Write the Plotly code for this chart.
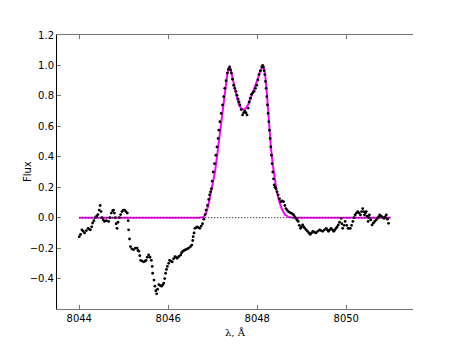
import plotly.graph_objects as go

wave = [
    8044.00, 8044.03, 8044.06, 8044.09, 8044.12, 8044.16, 8044.20, 8044.22, 8044.25, 8044.28,
    8044.30, 8044.33, 8044.36, 8044.39, 8044.42, 8044.45, 8044.47, 8044.49, 8044.51, 8044.54,
    8044.57, 8044.61, 8044.66, 8044.69, 8044.72, 8044.75, 8044.77, 8044.79, 8044.81, 8044.83,
    8044.85, 8044.87, 8044.90, 8044.93, 8044.96, 8044.99, 8045.02, 8045.05, 8045.08, 8045.10,
    8045.11, 8045.13, 8045.15, 8045.18, 8045.22, 8045.26, 8045.30, 8045.32, 8045.34, 8045.36,
    8045.38, 8045.41, 8045.45, 8045.48, 8045.50, 8045.53, 8045.56, 8045.59, 8045.62, 8045.64,
    8045.65, 8045.68, 8045.70, 8045.72, 8045.74, 8045.76, 8045.79, 8045.82, 8045.85, 8045.88,
    8045.90, 8045.92, 8045.94, 8045.96, 8045.98, 8046.01, 8046.03, 8046.06, 8046.09, 8046.12,
    8046.15, 8046.18, 8046.20, 8046.24, 8046.28, 8046.30, 8046.33, 8046.36, 8046.39, 8046.43,
    8046.46, 8046.50, 8046.53, 8046.55, 8046.56, 8046.58, 8046.60, 8046.63, 8046.65, 8046.68,
    8046.71, 8046.74, 8046.77, 8046.80, 8046.83, 8046.85, 8046.88, 8046.91, 8046.93, 8046.95,
    8046.97, 8046.99, 8047.01, 8047.04, 8047.07, 8047.095, 8047.12, 8047.14, 8047.16, 8047.19,
    8047.22, 8047.245, 8047.27, 8047.30, 8047.33, 8047.355, 8047.38, 8047.40, 8047.42, 8047.445,
    8047.47, 8047.495, 8047.52, 8047.545, 8047.57, 8047.59, 8047.61, 8047.64, 8047.67, 8047.695,
    8047.72, 8047.745, 8047.77, 8047.795, 8047.82, 8047.845, 8047.87, 8047.90, 8047.93, 8047.96,
    8047.99, 8048.015, 8048.04, 8048.07, 8048.10, 8048.12, 8048.14, 8048.155, 8048.17, 8048.185,
    8048.20, 8048.215, 8048.23, 8048.245, 8048.26, 8048.275, 8048.29, 8048.305, 8048.32, 8048.335,
    8048.35, 8048.365, 8048.38, 8048.40, 8048.42, 8048.445, 8048.47, 8048.50, 8048.53, 8048.56,
    8048.59, 8048.62, 8048.645, 8048.67, 8048.70, 8048.73, 8048.76, 8048.79, 8048.82, 8048.845,
    8048.87, 8048.895, 8048.92, 8048.945, 8048.97, 8048.995, 8049.02, 8049.045, 8049.07, 8049.10,
    8049.13, 8049.16, 8049.19, 8049.22, 8049.25, 8049.285, 8049.32, 8049.36, 8049.40, 8049.435,
    8049.47, 8049.51, 8049.55, 8049.575, 8049.60, 8049.63, 8049.66, 8049.69, 8049.72, 8049.745,
    8049.77, 8049.795, 8049.82, 8049.85, 8049.885, 8049.90, 8049.92, 8049.95, 8049.975, 8050.01,
    8050.04, 8050.065, 8050.09, 8050.12, 8050.15, 8050.175, 8050.20, 8050.23, 8050.26, 8050.29,
    8050.32, 8050.345, 8050.37, 8050.39, 8050.41, 8050.43, 8050.45, 8050.47, 8050.49, 8050.505,
    8050.52, 8050.55, 8050.58, 8050.61, 8050.64, 8050.67, 8050.70, 8050.725, 8050.75, 8050.775,
    8050.80, 8050.825, 8050.85, 8050.875, 8050.90, 8050.925, 8050.95,
]
flux = [
    -0.125, -0.11, -0.08, -0.09, -0.10, -0.085, -0.07, -0.075, -0.08, -0.06,
    -0.035, -0.02, 0.00, 0.01, 0.02, 0.05, 0.08, 0.04, 0.00, -0.015,
    -0.025, -0.02, -0.025, 0.00, 0.03, 0.045, 0.05, 0.03, 0.00, -0.04,
    -0.07, -0.03, 0.00, 0.02, 0.04, 0.05, 0.05, 0.04, 0.03, -0.02,
    -0.08, -0.14, -0.19, -0.205, -0.21, -0.20, -0.20, -0.215, -0.22, -0.25,
    -0.28, -0.285, -0.29, -0.285, -0.28, -0.26, -0.245, -0.26, -0.28, -0.32,
    -0.365, -0.41, -0.45, -0.48, -0.50, -0.47, -0.44, -0.445, -0.45, -0.44,
    -0.43, -0.40, -0.365, -0.34, -0.32, -0.30, -0.28, -0.285, -0.29, -0.27,
    -0.256, -0.26, -0.267, -0.255, -0.245, -0.23, -0.22, -0.215, -0.21, -0.205,
    -0.20, -0.19, -0.18, -0.15, -0.125, -0.10, -0.07, -0.065, -0.06, -0.065,
    -0.07, -0.055, -0.04, -0.01, 0.02, 0.05, 0.08, 0.12, 0.15, 0.17,
    0.19, 0.24, 0.30, 0.355, 0.41, 0.465, 0.52, 0.575, 0.63, 0.685,
    0.74, 0.795, 0.85, 0.90, 0.95, 0.975, 0.99, 0.97, 0.95, 0.91,
    0.87, 0.85, 0.83, 0.805, 0.78, 0.76, 0.74, 0.71, 0.675, 0.69,
    0.70, 0.69, 0.675, 0.72, 0.76, 0.785, 0.81, 0.82, 0.83, 0.85,
    0.87, 0.905, 0.94, 0.965, 0.99, 1.0, 0.99, 0.965, 0.94, 0.895,
    0.85, 0.795, 0.74, 0.685, 0.63, 0.575, 0.52, 0.465, 0.41, 0.355,
    0.30, 0.255, 0.215, 0.20, 0.19, 0.17, 0.15, 0.125, 0.105, 0.11,
    0.105, 0.08, 0.06, 0.05, 0.04, 0.035, 0.03, 0.025, 0.018, 0.005,
    -0.005, -0.015, -0.025, -0.05, -0.07, -0.06, -0.048, -0.06, -0.07, -0.08,
    -0.09, -0.10, -0.11, -0.10, -0.09, -0.095, -0.10, -0.09, -0.08, -0.085,
    -0.09, -0.08, -0.07, -0.08, -0.09, -0.08, -0.07, -0.08, -0.09, -0.08,
    -0.07, -0.06, -0.048, -0.03, -0.005, -0.04, -0.07, -0.05, -0.025, -0.05,
    -0.07, -0.07, -0.07, -0.05, -0.025, 0.00, 0.018, 0.03, 0.04, 0.03,
    0.018, 0.04, 0.06, 0.04, 0.018, 0.03, 0.04, 0.01, -0.025, 0.00,
    0.018, -0.015, -0.048, -0.035, -0.025, -0.015, -0.005, 0.005, 0.018, 0.012,
    0.007, 0.00, -0.005, 0.005, 0.018, -0.01, -0.037,
]

# fitted model (magenta line)
fit_wave = [
    8044.00, 8046.70, 8046.80, 8046.85, 8046.90, 8046.95, 8047.00, 8047.05, 8047.10, 8047.15,
    8047.20, 8047.25, 8047.29, 8047.33, 8047.36, 8047.38, 8047.40, 8047.44, 8047.48, 8047.52,
    8047.56, 8047.60, 8047.65, 8047.70, 8047.75, 8047.80, 8047.86, 8047.92, 8047.97, 8048.01,
    8048.05, 8048.09, 8048.12, 8048.15, 8048.18, 8048.21, 8048.24, 8048.27, 8048.31, 8048.35,
    8048.39, 8048.44, 8048.49, 8048.55, 8048.62, 8048.70, 8048.80, 8051.00,
]
fit_flux = [
    0.0, 0.0, 0.005, 0.03, 0.08, 0.15, 0.22, 0.30, 0.41, 0.53,
    0.66, 0.77, 0.87, 0.95, 0.985, 0.99, 0.975, 0.92, 0.86, 0.81,
    0.77, 0.735, 0.715, 0.71, 0.72, 0.745, 0.79, 0.835, 0.875, 0.91,
    0.95, 0.98, 0.99, 0.98, 0.935, 0.84, 0.70, 0.56, 0.45, 0.345,
    0.25, 0.17, 0.11, 0.06, 0.02, 0.005, 0.0, 0.0,
]

zero_x = [8044.0, 8051.0]
zero_y = [0.0, 0.0]

y_ticks = [1.2, 1.0, 0.8, 0.6, 0.4, 0.2, 0.0, -0.2, -0.4]
y_labels = ["1.2", "1.0", "0.8", "0.6", "0.4", "0.2", "0.0", "\u22120.2", "\u22120.4"]
x_ticks = [8044, 8046, 8048, 8050]

fig = go.Figure()
fig.add_trace(go.Scatter(
    x=fit_wave, y=fit_flux, mode="lines",
    line=dict(color="#ff00ff", width=2),
))
fig.add_trace(go.Scatter(
    x=zero_x, y=zero_y, mode="lines",
    line=dict(color="black", width=1, dash="1px,2px"),
))
fig.add_trace(go.Scatter(
    x=wave, y=flux, mode="markers",
    marker=dict(color="black", size=2.8),
))

# the page body has an 8px margin, so the figure is 8px smaller than the window
axis_font = dict(family="DejaVu Sans", size=10, color="black")
fig.update_layout(
    width=450, height=336,
    paper_bgcolor="white", plot_bgcolor="white",
    showlegend=False,
    margin=dict(l=49, r=45, t=27, b=35),
    font=dict(family="DejaVu Sans", size=10, color="black"),
    xaxis=dict(
        range=[8043.5, 8051.5], tickvals=x_ticks, ticktext=[str(v) for v in x_ticks],
        ticks="inside", ticklen=4, tickcolor="#777", showgrid=False, zeroline=False,
        showline=True, linecolor="#777", linewidth=1, mirror="ticks",
        tickfont=axis_font, automargin=False,
    ),
    yaxis=dict(
        range=[-0.6, 1.2], tickvals=y_ticks, ticktext=y_labels,
        ticks="inside", ticklen=4, tickcolor="#777", showgrid=False, zeroline=False,
        showline=True, linecolor="black", linewidth=1, mirror=False,
        tickfont=axis_font, automargin=False,
    ),
    yaxis2=dict(
        overlaying="y", side="right", anchor="x",
        range=[-0.6, 1.2], tickvals=y_ticks, showticklabels=False,
        ticks="inside", ticklen=4, tickcolor="#777", showgrid=False, zeroline=False,
        showline=True, linecolor="#777", linewidth=1, automargin=False,
    ),
    annotations=[
        dict(text="Flux", xref="paper", yref="paper", x=-0.084, y=0.5,
             xanchor="center", yanchor="middle",
             textangle=-90, showarrow=False, font=dict(family="DejaVu Sans", size=10)),
        dict(text="\u03bb, \u00c5", xref="paper", yref="paper", x=0.5, y=-0.084,
             xanchor="center", yanchor="middle",
             showarrow=False, font=dict(family="DejaVu Serif", size=10)),
    ],
)

fig.write_html("out.html")
